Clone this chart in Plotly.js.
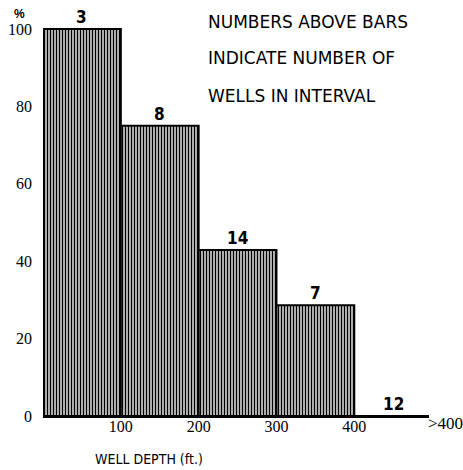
<!DOCTYPE html>
<html>
<head>
<meta charset="utf-8">
<script src="https://cdn.plot.ly/plotly-3.0.1.min.js"></script>
<style>html,body{margin:0;padding:0;background:#fff;}</style>
</head>
<body>
<div id="chart" style="width:463px;height:470px;"></div>
<script>
// Well depth intervals (bin centres, ft) and percentages
const depthCenters = [50, 150, 250, 350, 450];
const percentValues = [100, 75, 42.9, 28.6, 0];
const wellCounts = ["3", "8", "14", "7", "12"];
const xTickVals = [100, 200, 300, 400];
const xTickText = ["100", "200", "300", "400"];
const yTickVals = [0, 20, 40, 60, 80, 100];
const noteLines = ["NUMBERS ABOVE BARS", "INDICATE NUMBER OF", "WELLS IN INTERVAL"];

const trace = {
  type: 'bar',
  x: depthCenters,
  y: percentValues,
  width: 100,
  marker: {
    color: '#ffffff',
    line: {color: '#000000', width: 2},
    pattern: {shape: '|', fgcolor: '#000000', bgcolor: '#ffffff', size: 3, solidity: 0.55}
  },
  hoverinfo: 'skip'
};

const annotations = [];
depthCenters.forEach((x, i) => {
  annotations.push({
    x: x, y: percentValues[i], xref: 'x', yref: 'y',
    text: wellCounts[i], showarrow: false, yanchor: 'bottom', yshift: 0,
    font: {family: 'Liberation Sans Narrow, DejaVu Sans Condensed, Liberation Sans', size: 17, color: '#000', weight: 'bold'}
  });
});
const noteY = [0.952, 0.865, 0.773];
noteLines.forEach((t, i) => {
  annotations.push({
    x: 0.422, y: noteY[i], xref: 'paper', yref: 'paper',
    text: t, showarrow: false, xanchor: 'left', yanchor: 'middle',
    font: {family: 'DejaVu Sans', size: 17, color: '#000'}
  });
});
annotations.push({
  x: -0.06, y: 0.972, xref: 'paper', yref: 'paper', text: '%', showarrow: false,
  xanchor: 'center', yanchor: 'middle',
  font: {family: 'Liberation Sans', size: 12, color: '#000', weight: 'bold'}
});
annotations.push({
  x: 0.275, y: -0.105, xref: 'paper', yref: 'paper', text: 'WELL DEPTH (ft.)', showarrow: false,
  xanchor: 'center', yanchor: 'middle',
  font: {family: 'Liberation Sans Narrow, DejaVu Sans Condensed, Liberation Sans', size: 14, color: '#000'}
});
annotations.push({
  x: 1.0, y: 0, xref: 'paper', yref: 'y', text: '>400', showarrow: false,
  xanchor: 'left', yanchor: 'top', yshift: 4, xshift: -3,
  font: {family: 'Liberation Serif', size: 17, color: '#000'}
});

const layout = {
  width: 463, height: 470,
  margin: {l: 43, r: 34, t: 2, b: 54},
  paper_bgcolor: '#ffffff', plot_bgcolor: '#ffffff',
  showlegend: false,
  bargap: 0,
  xaxis: {
    range: [0, 496], showgrid: false, zeroline: false,
    showline: true, linecolor: '#000', linewidth: 2,
    tickvals: xTickVals, ticktext: xTickText, ticks: '', ticklabelstandoff: -5,
    tickfont: {family: 'Liberation Serif', size: 16, color: '#000'}
  },
  yaxis: {
    range: [0, 107], showgrid: false, zeroline: false, showline: false,
    tickvals: yTickVals, ticks: '', ticklabelstandoff: 10,
    tickfont: {family: 'Liberation Serif', size: 16, color: '#000'}
  },
  annotations: annotations
};

Plotly.newPlot('chart', [trace], layout, {displayModeBar: false, staticPlot: true});
</script>
</body>
</html>
